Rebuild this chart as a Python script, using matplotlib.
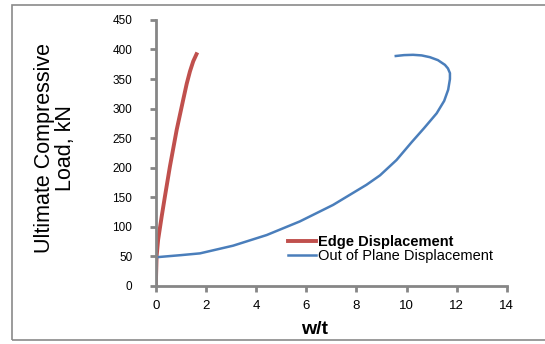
import matplotlib
matplotlib.use('Agg')
import matplotlib.pyplot as plt
from matplotlib.patches import Rectangle

###
# Data

# edge displacement (w/t, load kN)
edge_x = [0.0, 0.01, 0.03, 0.09, 0.23, 0.36, 0.56, 0.83, 1.09, 1.23, 1.36, 1.49, 1.62]
edge_y = [0, 20, 50, 78, 117, 151, 202, 264, 315, 342, 363, 380, 392]

# out of plane displacement (w/t, load kN)
oop_x = [0.0, 0.0, 0.03, 1.0, 1.76, 3.08, 4.42, 5.74, 7.07, 8.4, 8.94, 9.6,
         10.2, 10.7, 11.2, 11.5, 11.66, 11.73, 11.73, 11.65, 11.53, 11.25, 10.93,
         10.6, 10.26, 9.9, 9.57]
oop_y = [0, 47, 48.5, 52, 55, 68, 86, 109, 137, 171, 187, 213,
         243, 267, 292, 313, 332, 350, 360, 368, 374, 382, 387,
         390, 391, 390.5, 389]

series_labels = ['Edge Displacement', 'Out of Plane Displacement']

###
# Plot

plt.rcParams['font.family'] = ['Liberation Sans', 'DejaVu Sans']

fig = plt.figure(figsize=(5.45, 3.44), dpi=100)
ax = fig.add_axes([0.286, 0.169, 0.644, 0.773])

# outer frame around the chart
fig.patches.append(Rectangle((12 / 545, 4 / 344), 1.2, 335 / 344, transform=fig.transFigure,
                             fill=False, edgecolor='#8a8a8a', linewidth=1.2))

ax.plot(edge_x, edge_y, color='#c0504d', linewidth=2.8, label=series_labels[0])
ax.plot(oop_x, oop_y, color='#4a7ebb', linewidth=1.8, label=series_labels[1])

ax.set_xlim(0, 14)
ax.set_ylim(0, 450)
ax.set_xticks(range(0, 15, 2))
ax.set_yticks(range(0, 451, 50))

for side in ['top', 'right']:
    ax.spines[side].set_visible(False)
for side in ['left', 'bottom']:
    ax.spines[side].set_color('#868686')
    ax.spines[side].set_linewidth(2)
ax.tick_params(direction='out', length=4, width=2, color='#868686', labelsize=8.5)
ax.tick_params(axis='y', pad=13)
ax.tick_params(axis='x', pad=6, labelsize=9.5)

ax.set_xlabel('w/t', fontsize=14, fontweight='bold')
ax.xaxis.set_label_coords((315 - 156) / (507 - 156), -0.133)
ax.set_ylabel('Ultimate Compressive\nLoad, kN', fontsize=15.5, linespacing=1.0)
ax.yaxis.set_label_coords(-(156 - 76) / (507 - 156), 0.52)

leg = ax.legend(loc='upper left', bbox_to_anchor=(0.376, 0.19), frameon=False, fontsize=10.5,
                handlelength=1.9, handletextpad=0.15, labelspacing=0.0,
                borderpad=0, borderaxespad=0)
leg.get_texts()[0].set_fontweight('bold')

fig.savefig('out.png', dpi=100)
